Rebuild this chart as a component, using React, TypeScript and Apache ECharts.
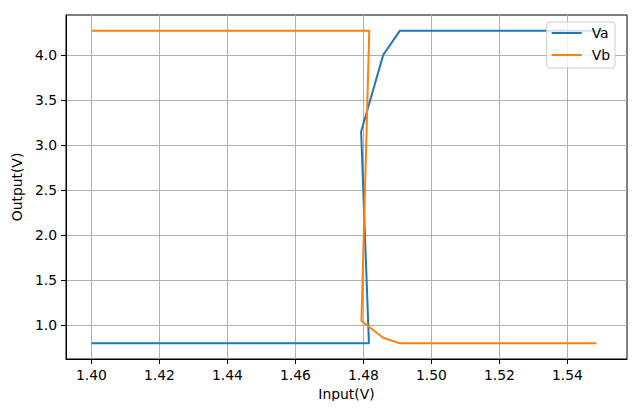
import React, { useEffect, useRef } from "react";
import * as echarts from "echarts";

const vaX = [1.4, 1.4816, 1.4793, 1.4858, 1.4907, 1.55];
const vaY = [0.8, 0.8, 3.148, 4.0, 4.27, 4.27];
const vbX = [1.4, 1.4817, 1.4794, 1.4858, 1.4907, 1.5485];
const vbY = [4.27, 4.27, 1.048, 0.863, 0.8, 0.8];
const xTicks = [1.4, 1.42, 1.44, 1.46, 1.48, 1.5, 1.52, 1.54];
const yTicks = [1.0, 1.5, 2.0, 2.5, 3.0, 3.5, 4.0];

const FONT = "DejaVu Sans";
const FS = 13.9;

export default function App() {
  const ref = useRef<HTMLDivElement>(null);
  useEffect(() => {
    if (!ref.current) return;
    const chart = echarts.init(ref.current, undefined, { renderer: "svg" });
    const toPairs = (xs: number[], ys: number[]) => xs.map((x, i) => [x, ys[i]]);
    chart.setOption({
      animation: false,
      backgroundColor: "#ffffff",
      textStyle: { fontFamily: FONT },
      grid: {
        left: 66,
        right: 13,
        top: 15,
        bottom: 50,
        show: true,
        borderColor: "#000000",
        borderWidth: 1,
        backgroundColor: "transparent",
      },
      legend: {
        orient: "vertical",
        right: 25,
        top: 22,
        icon: "rect",
        itemWidth: 30,
        itemHeight: 2,
        itemGap: 8,
        padding: [4, 5, 6, 5],
        backgroundColor: "rgba(255,255,255,0.8)",
        borderColor: "#cccccc",
        borderWidth: 1,
        borderRadius: 3,
        textStyle: {
          fontFamily: FONT,
          fontSize: FS,
          color: "#000",
          lineHeight: 14,
          padding: [0, 0, 0, 5],
        },
        data: ["Va", "Vb"],
      },
      xAxis: {
        type: "value",
        min: 1.3925,
        max: 1.5575,
        name: "Input(V)",
        nameLocation: "middle",
        nameGap: 28,
        nameTextStyle: { fontFamily: FONT, fontSize: FS, color: "#000" },
        axisLine: { show: true, lineStyle: { color: "#000", width: 1 } },
        axisTick: {
          show: true,
          length: 5,
          lineStyle: { color: "#000", width: 1 },
          customValues: xTicks,
        },
        axisLabel: {
          customValues: xTicks,
          fontFamily: FONT,
          fontSize: FS,
          color: "#000",
          margin: 9,
          formatter: (v: number) => v.toFixed(2),
        },
        splitLine: {
          show: true,
          lineStyle: { color: "#b0b0b0", width: 1 },
        },
      },
      yAxis: {
        type: "value",
        min: 0.6265,
        max: 4.4435,
        name: "Output(V)",
        nameLocation: "middle",
        nameGap: 34,
        nameTextStyle: { fontFamily: FONT, fontSize: FS, color: "#000" },
        axisLine: { show: true, lineStyle: { color: "#000", width: 1 } },
        axisTick: {
          show: true,
          length: 5,
          lineStyle: { color: "#000", width: 1 },
          customValues: yTicks,
        },
        axisLabel: {
          customValues: yTicks,
          fontFamily: FONT,
          fontSize: FS,
          color: "#000",
          margin: 9,
          formatter: (v: number) => v.toFixed(1),
        },
        splitLine: {
          show: true,
          lineStyle: { color: "#b0b0b0", width: 1 },
        },
      },
      series: [
        {
          name: "Va",
          type: "line",
          data: toPairs(vaX, vaY),
          symbol: "none",
          itemStyle: { color: "#1f77b4" },
          lineStyle: { color: "#1f77b4", width: 2 },
        },
        {
          name: "Vb",
          type: "line",
          data: toPairs(vbX, vbY),
          symbol: "none",
          itemStyle: { color: "#ff7f0e" },
          lineStyle: { color: "#ff7f0e", width: 2 },
        },
      ],
    });
    return () => chart.dispose();
  }, []);
  return <div ref={ref} style={{ width: 640, height: 409, margin: -8 }} />;
}
